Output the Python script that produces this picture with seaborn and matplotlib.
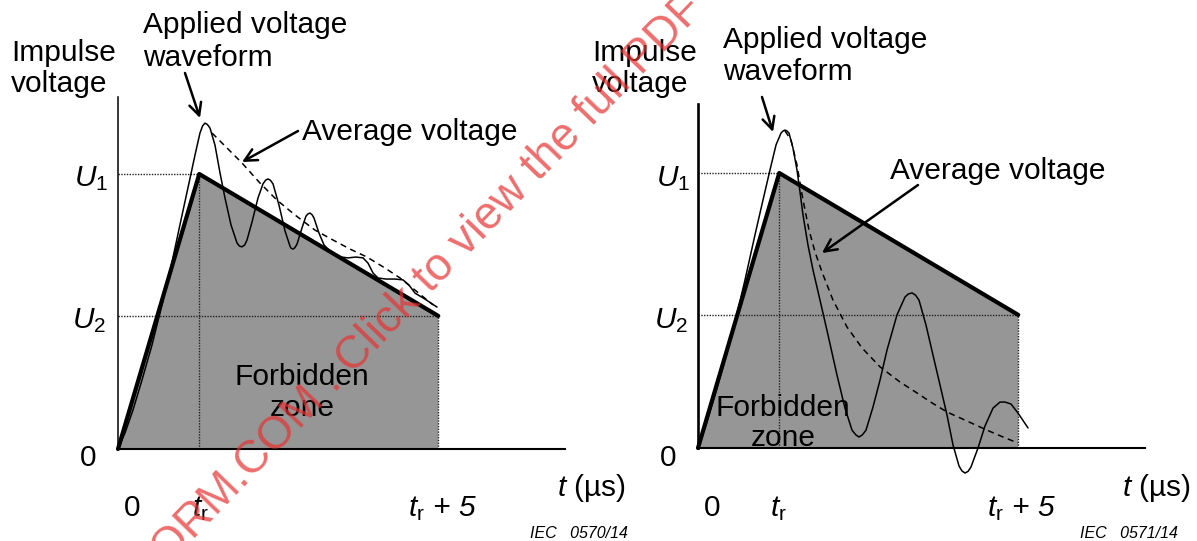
import matplotlib
matplotlib.use('Agg')
import matplotlib.pyplot as plt
import pandas as pd
import seaborn as sns

# impulse shape (t in µs, voltage in per unit of U1)
tr = 1.7
window = 5.0
u1 = 1.0
u2 = 0.484
t_end = 9.35
v_top = [1.28, 1.25]

# left figure: small oscillations around the tail
wave1_t = [0, 0.146, 0.314, 0.502, 0.711, 0.921, 1.130, 1.318, 1.485, 1.611, 1.715, 1.770,
           1.820, 1.870, 1.925, 2.029, 2.134, 2.238, 2.364, 2.490, 2.540, 2.594, 2.650,
           2.699, 2.803, 2.929, 3.033, 3.090, 3.138, 3.190, 3.243, 3.368, 3.494, 3.598,
           3.620, 3.661, 3.700, 3.745, 3.849, 3.933, 3.975, 4.017, 4.060, 4.100, 4.205,
           4.310, 4.393, 4.519, 4.665, 4.812, 4.979, 5.126, 5.230, 5.335, 5.439, 5.607,
           5.795, 5.962, 6.088, 6.213, 6.423, 6.674]
wave1_v = [0, 0.058, 0.142, 0.251, 0.378, 0.524, 0.680, 0.833, 0.967, 1.069, 1.149, 1.175,
           1.185, 1.180, 1.167, 1.105, 1.004, 0.913, 0.815, 0.749, 0.738, 0.735, 0.742,
           0.760, 0.825, 0.913, 0.964, 0.978, 0.982, 0.977, 0.964, 0.887, 0.793, 0.738,
           0.730, 0.727, 0.732, 0.745, 0.804, 0.847, 0.855, 0.858, 0.852, 0.840, 0.785,
           0.742, 0.727, 0.709, 0.698, 0.695, 0.698, 0.695, 0.676, 0.640, 0.622, 0.618,
           0.618, 0.615, 0.596, 0.567, 0.545, 0.516]
avg1_t = [1.967, 2.238, 2.594, 2.971, 3.326, 3.703, 4.121, 4.498, 4.854, 5.209, 5.586,
          5.900, 6.213, 6.590]
avg1_v = [1.149, 1.102, 1.040, 0.967, 0.905, 0.851, 0.796, 0.760, 0.727, 0.698, 0.658,
          0.622, 0.578, 0.524]

# right figure: large oscillation, average decays fast
wave2_t = [0, 0.167, 0.356, 0.565, 0.774, 0.983, 1.192, 1.360, 1.506, 1.632, 1.736, 1.780,
           1.820, 1.860, 1.904, 1.987, 2.071, 2.134, 2.197, 2.301, 2.406, 2.552, 2.720,
           2.908, 3.075, 3.222, 3.300, 3.368, 3.440, 3.515, 3.661, 3.808, 3.954, 4.163,
           4.331, 4.400, 4.477, 4.550, 4.623, 4.770, 4.916, 5.063, 5.209, 5.335, 5.460,
           5.520, 5.586, 5.650, 5.711, 5.858, 6.004, 6.172, 6.318, 6.423, 6.548, 6.695,
           6.904]
wave2_v = [0, 0.084, 0.193, 0.320, 0.458, 0.611, 0.775, 0.902, 1.011, 1.102, 1.145, 1.153,
           1.156, 1.153, 1.145, 1.091, 1.011, 0.931, 0.847, 0.738, 0.647, 0.538, 0.411,
           0.265, 0.145, 0.065, 0.048, 0.040, 0.048, 0.065, 0.149, 0.247, 0.356, 0.484,
           0.549, 0.560, 0.564, 0.556, 0.538, 0.447, 0.338, 0.229, 0.120, 0.011, -0.065,
           -0.083, -0.091, -0.085, -0.069, 0.000, 0.080, 0.145, 0.167, 0.167, 0.160, 0.127,
           0.073]
avg2_t = [1.820, 1.946, 2.071, 2.197, 2.322, 2.448, 2.594, 2.824, 3.117, 3.431, 3.808,
          4.226, 4.582, 4.895, 5.209, 5.628, 6.046, 6.381, 6.695]
avg2_v = [1.153, 1.120, 1.029, 0.902, 0.793, 0.713, 0.640, 0.538, 0.440, 0.364, 0.295,
          0.240, 0.200, 0.164, 0.131, 0.098, 0.065, 0.040, 0.018]

W, H = 1197, 541
sns.set_theme(style='white')
plt.rcParams['font.family'] = ['Liberation Sans', 'DejaVu Sans']
plt.rcParams['mathtext.fontset'] = 'custom'
plt.rcParams['mathtext.rm'] = 'Liberation Sans'
plt.rcParams['mathtext.it'] = 'Liberation Sans:italic'
plt.rcParams['mathtext.sf'] = 'Liberation Sans'
plt.rcParams['lines.solid_joinstyle'] = 'round'

fig = plt.figure(figsize=(W / 100, H / 100), dpi=100)


def px(x, y):
    return x / W, 1 - y / H


def label(x, y, s, **kw):
    kw.setdefault('fontsize', 21.5)
    kw.setdefault('va', 'baseline')
    fig.text(*px(x, y), s, color='black', **kw)


def panel(ox, oy, ytop, ylw, wave_t, wave_v, avg_t, avg_v):
    sx, sy = 47.8, 275.0
    xmin, xmax, ymin, ymax = 0, 9.4, -0.2, 1.3
    left = ox + xmin * sx
    bottom = oy - ymin * sy
    ax = fig.add_axes([left / W, 1 - bottom / H, (xmax - xmin) * sx / W,
                       (ymax - ymin) * sy / H])
    ax.set_xlim(xmin, xmax)
    ax.set_ylim(ymin, ymax)
    ax.patch.set_alpha(0)

    # forbidden zone
    ax.fill([0, tr, tr + window, tr + window], [0, u1, u2, 0], color='#969696', lw=0, zorder=1)
    dot = dict(color='#222222', lw=1.0, ls=(0, (1, 1)), zorder=2)
    ax.plot([0, tr], [u1, u1], **dot)
    ax.plot([0, tr + window], [u2, u2], **dot)
    ax.plot([tr, tr], [0, u1], **dot)
    ax.plot([tr + window, tr + window], [0, u2], **dot)

    env = pd.DataFrame({'t': [0, tr, tr + window], 'v': [0, u1, u2]})
    sns.lineplot(data=env, x='t', y='v', sort=False, estimator=None, color='black',
                 lw=3.0, ax=ax, zorder=4)
    wav = pd.DataFrame({'t': wave_t, 'v': wave_v})
    sns.lineplot(data=wav, x='t', y='v', sort=False, estimator=None, color='black',
                 lw=1.1, ax=ax, zorder=5)
    avg = pd.DataFrame({'t': avg_t, 'v': avg_v})
    sns.lineplot(data=avg, x='t', y='v', sort=False, estimator=None, color='black',
                 lw=1.1, ls=(0, (4, 3)), ax=ax, zorder=5)
    for ln in ax.lines:
        ln.set_clip_on(False)

    for s in ['top', 'right']:
        ax.spines[s].set_visible(False)
    ax.spines['left'].set_bounds(0, ytop)
    ax.spines['left'].set_linewidth(ylw)
    ax.spines['left'].set_color('black')
    ax.spines['bottom'].set_position(('data', 0))
    ax.spines['bottom'].set_bounds(0, t_end)
    ax.spines['bottom'].set_linewidth(1.5)
    ax.spines['bottom'].set_color('black')
    ax.spines['left'].set_zorder(6)
    ax.spines['bottom'].set_zorder(6)
    ax.set_xticks([])
    ax.set_yticks([])
    ax.set_xlabel('')
    ax.set_ylabel('')
    return ax


def arrow(x0, y0, x1, y1):
    fig.add_artist(matplotlib.patches.FancyArrowPatch(
        px(x0, y0), px(x1, y1), transform=fig.transFigure, arrowstyle='->',
        mutation_scale=22, lw=1.8, color='black', shrinkA=0, shrinkB=0, zorder=8))


panel(118, 449, v_top[0], 1.1, wave1_t, wave1_v, avg1_t, avg1_v)
panel(698, 448, v_top[1], 1.9, wave2_t, wave2_v, avg2_t, avg2_v)

# left panel texts
label(11, 61, 'Impulse')
label(11, 92, 'voltage')
label(143, 33, 'Applied voltage')
label(143, 66, 'waveform')
label(302, 140, 'Average voltage')
label(302, 385, 'Forbidden', ha='center')
label(302, 416, 'zone', ha='center')
label(108, 186, r'$U_1$', ha='right')
label(106, 328, r'$U_2$', ha='right')
label(88, 466, '0', ha='center')
label(132, 516, '0', ha='center')
label(200, 516, r'$t_\mathrm{r}$', ha='center')
label(442, 516, r'$t_\mathrm{r}$ + 5', ha='center', style='italic')
label(557, 496, r'$t$ (µs)')
label(530, 538, 'IEC   0570/14', fontsize=11.5, style='italic')
arrow(185, 73, 200, 118)
arrow(298, 131, 242, 162)

# right panel texts
label(592, 61, 'Impulse')
label(592, 92, 'voltage')
label(723, 48, 'Applied voltage')
label(723, 80, 'waveform')
label(890, 179, 'Average voltage')
label(783, 416, 'Forbidden', ha='center')
label(783, 446, 'zone', ha='center')
label(690, 186, r'$U_1$', ha='right')
label(688, 328, r'$U_2$', ha='right')
label(668, 466, '0', ha='center')
label(712, 516, '0', ha='center')
label(778, 516, r'$t_\mathrm{r}$', ha='center')
label(1021, 516, r'$t_\mathrm{r}$ + 5', ha='center', style='italic')
label(1122, 496, r'$t$ (µs)')
label(1080, 538, 'IEC   0571/14', fontsize=11.5, style='italic')
arrow(762, 97, 773, 132)
arrow(918, 185, 822, 253)

# watermark of the source document
fig.text(*px(428, 280), 'ORM.COM . Click to view the full PDF', rotation=46,
         rotation_mode='anchor', ha='center', va='center', fontsize=33,
         color='#e83030', alpha=0.7, zorder=10)

fig.savefig('out.png', dpi=100)
